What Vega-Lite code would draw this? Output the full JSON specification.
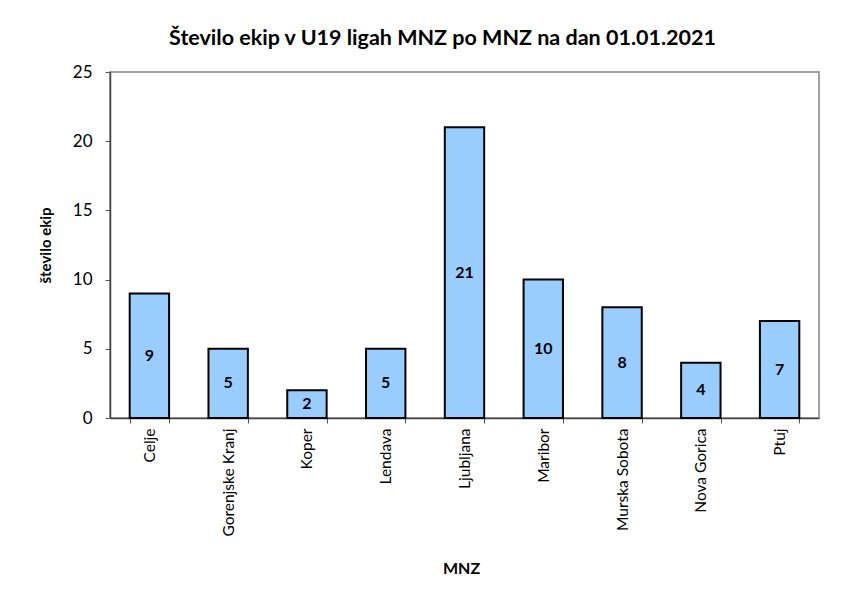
{
  "$schema": "https://vega.github.io/schema/vega-lite/v6.json",
  "autosize": {"type": "none"},
  "width": 709,
  "height": 346,
  "padding": {"left": 110, "top": 72, "right": 37, "bottom": 193},
  "background": "white",
  "title": {
    "text": "Število ekip v U19 ligah MNZ po MNZ na dan 01.01.2021",
    "font": "Lato",
    "fontSize": 21.5,
    "fontWeight": "bold",
    "color": "black",
    "anchor": "middle",
    "frame": "group",
    "dx": -22,
    "offset": -3,
    "baseline": "alphabetic"
  },
  "data": {
    "values": [
      {"mnz": "Celje", "n": 9},
      {"mnz": "Gorenjske Kranj", "n": 5},
      {"mnz": "Koper", "n": 2},
      {"mnz": "Lendava", "n": 5},
      {"mnz": "Ljubljana", "n": 21},
      {"mnz": "Maribor", "n": 10},
      {"mnz": "Murska Sobota", "n": 8},
      {"mnz": "Nova Gorica", "n": 4},
      {"mnz": "Ptuj", "n": 7}
    ]
  },
  "transform": [{"calculate": "datum.n / 2", "as": "mid"}],
  "encoding": {
    "x": {
      "field": "mnz",
      "type": "nominal",
      "sort": null,
      "scale": {"paddingInner": 0.5, "paddingOuter": 0.25},
      "axis": {
        "title": "MNZ",
        "titleFont": "Lato",
        "titleFontSize": 16,
        "titleFontWeight": "bold",
        "titleColor": "black",
        "titleX": 351,
        "titleY": 150,
        "titleAlign": "center",
        "titleBaseline": "middle",
        "labelAngle": -90,
        "labelFont": "Lato",
        "labelFontSize": 15.5,
        "labelColor": "black",
        "labelPadding": 5,
        "tickBand": "extent",
        "tickSize": 5,
        "tickColor": "#555",
        "domainColor": "#444",
        "domainWidth": 1.5
      }
    }
  },
  "layer": [
    {
      "mark": {"type": "bar", "fill": "#99CCFF", "stroke": "black", "strokeWidth": 2},
      "encoding": {
        "y": {
          "field": "n",
          "type": "quantitative",
          "scale": {"domain": [0, 25], "nice": false},
          "axis": {
            "title": "število ekip",
            "titleFont": "Lato",
            "titleFontSize": 15,
            "titleFontWeight": "bold",
            "titleColor": "black",
            "titleX": -65,
            "titleY": 173,
            "titleAlign": "center",
            "titleBaseline": "middle",
            "values": [0, 5, 10, 15, 20, 25],
            "grid": false,
            "labelFont": "Lato",
            "labelFontSize": 17,
            "labelColor": "black",
            "labelPadding": 13,
            "tickSize": 5,
            "tickColor": "#555",
            "domainColor": "#444",
            "domainWidth": 1.5
          }
        }
      }
    },
    {
      "mark": {"type": "text", "font": "Lato", "fontSize": 16, "fontWeight": "bold", "color": "black", "baseline": "middle"},
      "encoding": {
        "y": {"field": "mid", "type": "quantitative", "scale": {"domain": [0, 25], "nice": false}},
        "text": {"field": "n", "type": "quantitative"}
      }
    }
  ],
  "config": {
    "view": {"stroke": "#a0a0a0", "strokeWidth": 2}
  }
}
